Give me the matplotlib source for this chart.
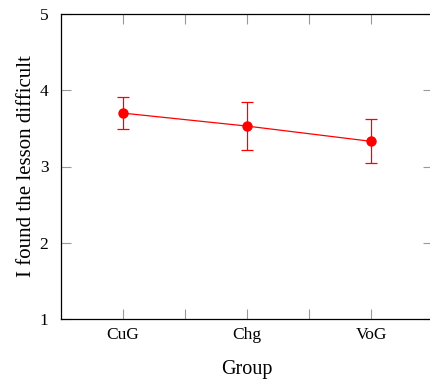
import numpy as np
import matplotlib.pyplot as plt

groups = ['CuG', 'Chg', 'VoG']
means = [3.70, 3.53, 3.33]
errors = [0.21, 0.32, 0.29]

plt.rcParams['font.family'] = ['Liberation Serif', 'DejaVu Serif']

fig = plt.figure(figsize=(4.30, 3.83), dpi=100)
ax = fig.add_axes([61 / 430, 64 / 383, 372 / 430, 305 / 383])

x = np.arange(len(groups))
ax.errorbar(x, means, yerr=errors, color='red', marker='o', markersize=6.5,
            linewidth=0.9, elinewidth=0.9, capsize=4, capthick=0.9)

ax.set_xlim(-0.5, 2.5)
ax.set_ylim(1, 5)
ax.set_xticks(x)
ax.set_xticklabels(groups)
ax.set_xticks([0.5, 1.5], minor=True)
ax.set_yticks([1, 2, 3, 4, 5])

ax.tick_params(axis='both', which='both', direction='in', length=7,
               width=0.8, color='#999999', top=True, right=True,
               labelsize=12.5)
ax.tick_params(axis='x', pad=6)
ax.tick_params(axis='y', pad=9)
for s in ax.spines.values():
    s.set_linewidth(0.9)

ax.set_xlabel('Group', fontsize=14.5, labelpad=12)
ax.set_ylabel('I found the lesson difficult', fontsize=15, labelpad=3)

fig.savefig('out.png', dpi=100)
